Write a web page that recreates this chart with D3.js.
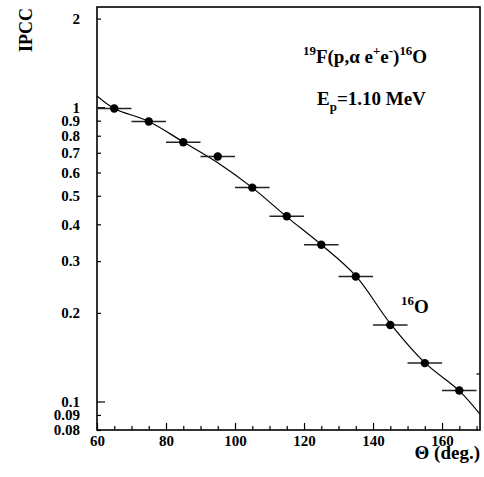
<!DOCTYPE html>
<html>
<head>
<meta charset="utf-8">
<script src="https://cdn.jsdelivr.net/npm/d3@7"></script>
<style>
body{margin:0;background:#fff}
svg{display:block}
text{font-family:"Liberation Serif","Times New Roman",serif;font-weight:bold}
</style>
</head>
<body>
<div id="chart"></div>
<script>
// measured points: angle (deg) and IPCC, x error +-5 deg
var theta = [65,75,85,95,105,115,125,135,145,155,165,175]
var ipcc = [0.990,0.894,0.760,0.680,0.533,0.426,0.341,0.266,0.182,0.135,0.109,0.124]
var thetaErr = 5

// fit curve
var fitTheta = [60,65,75,85,95,105,115,125,135,145,155,165,171]
var fitIpcc = [1.092,0.990,0.894,0.762,0.648,0.533,0.424,0.341,0.267,0.184,0.1355,0.1087,0.0906]

var yTicks = [2,1,0.9,0.8,0.7,0.6,0.5,0.4,0.3,0.2,0.1,0.09,0.08]
var yMajor = [1,0.1]
var xTicks = d3.range(60,171,5)
var xLabelled = [60,80,100,120,140,160]

var W = 484, H = 477
var L = 97, R = 480, T = 7, B = 430

var svg = d3.select('#chart').append('svg')
.attr('width',W)
.attr('height',H)

var x = d3.scaleLinear().domain([60,171]).range([L,R])
var y = d3.scaleLog().domain([0.08,2.19]).range([B,T])

svg.append('clipPath').attr('id','clip')
.append('rect').attr('x',L).attr('y',T).attr('width',R-L).attr('height',B-T)

// y axis, ticks inward
var yaxis = svg.append('g').attr('transform','translate('+L+',0)')
.call(d3.axisLeft(y).tickValues(yTicks).tickFormat(function(d){return d}).tickSizeInner(-4).tickSizeOuter(0).tickPadding(17))
yaxis.selectAll('.tick line').attr('x2',function(d){return yMajor.indexOf(d)>=0 ? 8 : 4}).attr('stroke-width',1.2)
yaxis.selectAll('text').style('font-size','15px').attr('fill','#000')
yaxis.select('.domain').remove()

// x axis
var xaxis = svg.append('g').attr('transform','translate(0,'+B+')')
.call(d3.axisBottom(x).tickValues(xTicks).tickFormat(function(d){return xLabelled.indexOf(d)>=0 ? d : ''}).tickSizeInner(-4).tickSizeOuter(0).tickPadding(5))
xaxis.selectAll('.tick line').attr('y2',function(d){return d%20==0 ? -7 : -4}).attr('stroke-width',1.2)
xaxis.selectAll('text').style('font-size','15px').attr('fill','#000')
xaxis.select('.domain').remove()

// frame
svg.append('rect')
.attr('x',L).attr('y',T).attr('width',R-L).attr('height',B-T)
.attr('fill','none').attr('stroke','#000').attr('stroke-width',1.6)

var plot = svg.append('g').attr('clip-path','url(#clip)')

// fit curve
var line = d3.line()
.x(function(d,i){return x(fitTheta[i])})
.y(function(d){return y(d)})
.curve(d3.curveCatmullRom)
plot.append('path').datum(fitIpcc)
.attr('d',line)
.attr('fill','none').attr('stroke','#000').attr('stroke-width',1.2)

// error bars and markers
plot.selectAll('.err').data(ipcc).enter().append('line')
.attr('class','err')
.attr('x1',function(d,i){return x(theta[i]-thetaErr)})
.attr('x2',function(d,i){return x(theta[i]+thetaErr)})
.attr('y1',function(d){return y(d)})
.attr('y2',function(d){return y(d)})
.attr('stroke','#222').attr('stroke-width',1.5)

plot.selectAll('.pt').data(ipcc).enter().append('circle')
.attr('class','pt')
.attr('cx',function(d,i){return x(theta[i])})
.attr('cy',function(d){return y(d)})
.attr('r',4.2)
.attr('fill','#000')

// text with super/subscripts
function richText(xp,yp,parts,size){
    var t = svg.append('text').attr('x',xp).attr('y',yp).style('font-size',size+'px')
    var shift = 0
    parts.forEach(function(p){
        var target = p[1]=='sup' ? -0.42*size : p[1]=='sub' ? 0.3*size : 0
        t.append('tspan')
        .attr('dy',target-shift)
        .style('font-size',(p[1] ? size*0.68 : size)+'px')
        .text(p[0])
        shift = target
    })
    return t
}

richText(303,63,[['19','sup'],['F(p,\u03b1 e',''],['+','sup'],['e',''],['-','sup'],[')',''],['16','sup'],['O','']],19)
richText(317,105,[['E',''],['p','sub'],['=1.10 MeV','']],19)
richText(401,313,[['16','sup'],['O','']],19)

svg.append('text')
.attr('transform','translate(32,30) rotate(-90)')
.attr('text-anchor','middle')
.style('font-size','18px')
.text('IPCC')

svg.append('text')
.attr('x',480).attr('y',459)
.attr('text-anchor','end')
.style('font-size','19px')
.text('\u0398 (deg.)')
</script>
</body>
</html>
